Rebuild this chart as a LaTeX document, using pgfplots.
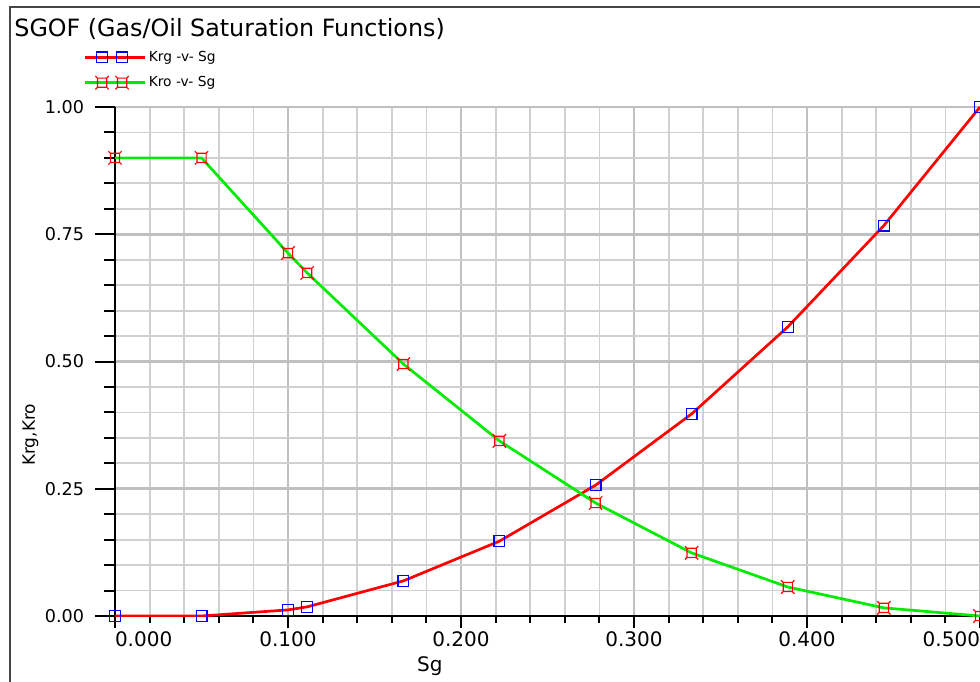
\documentclass[border=0pt]{standalone}
\usepackage{pgfplots}
\pgfplotsset{compat=1.18}
\usepackage{fontspec}
\setmainfont{DejaVu Sans}

\definecolor{gridminor}{RGB}{208,208,208}
\definecolor{gridmajor}{RGB}{192,192,192}
\definecolor{framegray}{RGB}{70,70,70}
\definecolor{krgline}{RGB}{255,0,0}
\definecolor{kroline}{RGB}{0,235,0}
\definecolor{krgmark}{RGB}{0,0,255}
\definecolor{kromark}{RGB}{255,0,0}

% open square with short spurs at its corners
\pgfdeclareplotmark{spursquare}{%
  \pgfpathrectangle{\pgfqpoint{-\pgfplotmarksize}{-\pgfplotmarksize}}{\pgfqpoint{2\pgfplotmarksize}{2\pgfplotmarksize}}%
  \pgfpathmoveto{\pgfqpoint{\pgfplotmarksize}{\pgfplotmarksize}}\pgfpathlineto{\pgfqpoint{1.45\pgfplotmarksize}{1.45\pgfplotmarksize}}%
  \pgfpathmoveto{\pgfqpoint{-\pgfplotmarksize}{\pgfplotmarksize}}\pgfpathlineto{\pgfqpoint{-1.45\pgfplotmarksize}{1.45\pgfplotmarksize}}%
  \pgfpathmoveto{\pgfqpoint{\pgfplotmarksize}{-\pgfplotmarksize}}\pgfpathlineto{\pgfqpoint{1.45\pgfplotmarksize}{-1.45\pgfplotmarksize}}%
  \pgfpathmoveto{\pgfqpoint{-\pgfplotmarksize}{-\pgfplotmarksize}}\pgfpathlineto{\pgfqpoint{-1.45\pgfplotmarksize}{-1.45\pgfplotmarksize}}%
  \pgfusepathqstroke}

% SGOF table: Sg, Krg, Kro
\pgfplotstableread{
Sg      Krg    Kro
0.0000  0.000  0.900
0.0500  0.000  0.900
0.1000  0.012  0.713
0.1111  0.018  0.674
0.1667  0.069  0.495
0.2222  0.147  0.344
0.2778  0.257  0.222
0.3333  0.397  0.124
0.3889  0.568  0.057
0.4444  0.767  0.016
0.5000  1.000  0.000
}\sgof

\begin{document}
\begin{tikzpicture}
\begin{axis}[
  at={(57.5pt,32.5pt)}, anchor=south west,
  scale only axis, width=432.5pt, height=254.5pt,
  xmin=0, xmax=0.5, ymin=0, ymax=1,
  axis lines*=left,
  axis line style={black, line width=1pt},
  xtick={0,0.1,0.2,0.3,0.4,0.5},
  xticklabels={\makebox[0pt][l]{0.000},0.100,0.200,0.300,0.400,\makebox[0pt][r]{0.500}},
  minor xtick={0.02,0.04,0.06,0.08,0.12,0.14,0.16,0.18,0.22,0.24,0.26,0.28,0.32,0.34,0.36,0.38,0.42,0.44,0.46,0.48},
  ytick={0,0.25,0.5,0.75,1},
  yticklabels={0.00,0.25,0.50,0.75,1.00},
  minor ytick={0.05,0.1,0.15,0.2,0.3,0.35,0.4,0.45,0.55,0.6,0.65,0.7,0.8,0.85,0.9,0.95},
  grid=both,
  major grid style={gridmajor, line width=1.3pt},
  minor grid style={gridminor, line width=0.9pt},
  tick align=outside,
  tick style={black, line width=1pt},
  xtick style={/pgfplots/major tick length=6pt, /pgfplots/minor tick length=3.5pt},
  ytick style={/pgfplots/major tick length=10pt, /pgfplots/minor tick length=5.5pt},
  xticklabel style={font=\fontsize{10}{12}\selectfont, anchor=north},
  yticklabel style={font=\fontsize{8.8}{10}\selectfont, anchor=east, inner sep=0pt, xshift=-11pt},
  xlabel={Sg},
  xlabel style={at={(axis description cs:0.364,-0.110)}, anchor=base, font=\fontsize{10}{12}\selectfont},
  ylabel={Krg,Kro},
  ylabel style={at={(axis description cs:-0.0925,0.356)}, anchor=base, font=\fontsize{8.5}{10}\selectfont},
  legend style={at={(axis description cs:-0.037,1.115)}, anchor=north west,
    draw=none, fill=none, inner sep=0pt, row sep=4pt,
    font=\fontsize{6.9}{8}\selectfont, nodes={inner sep=1pt, anchor=west}},
  legend cell align=left,
  legend image code/.code={%
    \draw[#1, mark=none, line width=1.7pt] (0pt,0pt) -- (30pt,0pt);
    \draw[#1] plot coordinates {(8.5pt,0pt) (18.5pt,0pt)};},
]
\addplot[krgline, line width=1.35pt, mark=square, mark size=2.7pt,
  mark options={draw=krgmark, line width=0.6pt, fill=none}]
  table[x=Sg, y=Krg] {\sgof};
\addlegendentry{Krg -v- Sg}
\addplot[kroline, line width=1.35pt, mark=spursquare, mark size=2.3pt,
  mark options={draw=kromark, line width=0.6pt, fill=none}]
  table[x=Sg, y=Kro] {\sgof};
\addlegendentry{Kro -v- Sg}
\end{axis}
% window frame and chart title
\draw[framegray, line width=1pt] (5pt,-5pt) -- (5pt,337pt) -- (500pt,337pt);
\node[anchor=base west, inner sep=0pt, font=\fontsize{11.9}{14}\selectfont] at (7pt,322pt) {SGOF (Gas/Oil Saturation Functions)};
\pgfresetboundingbox
\useasboundingbox (0pt,0pt) rectangle (490pt,340.5pt);
\end{tikzpicture}
\end{document}
